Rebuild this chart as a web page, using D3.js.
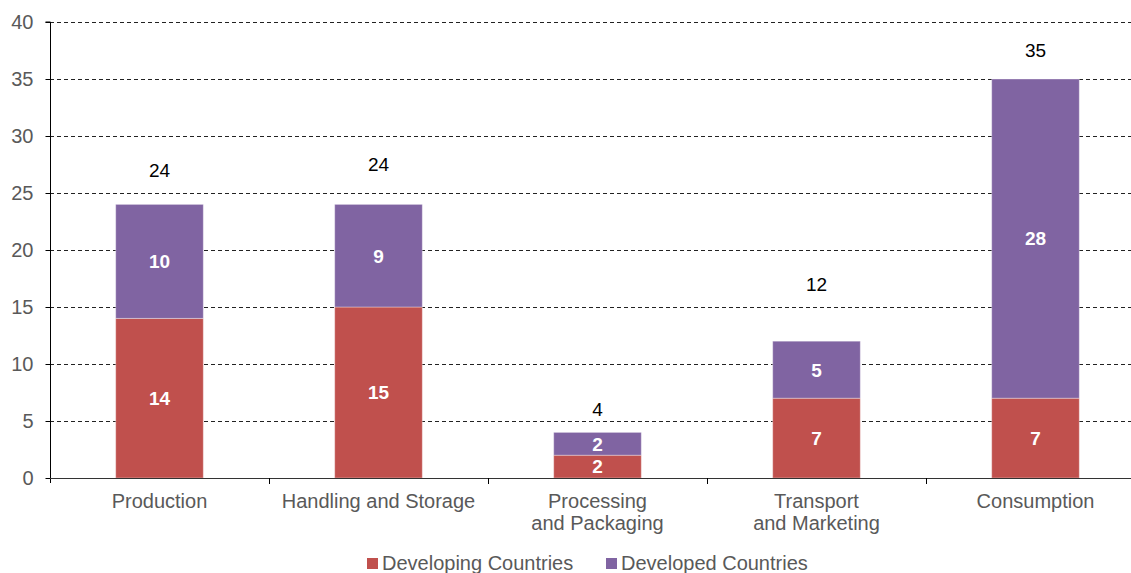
<!DOCTYPE html>
<html>
<head>
<meta charset="utf-8">
<script src="https://cdn.jsdelivr.net/npm/d3@7"></script>
<style>
  html, body { margin: 0; padding: 0; background: #fff; }
  svg { display: block; font-family: "Liberation Sans", Arial, sans-serif; }
</style>
</head>
<body>
<svg id="chart" width="1131" height="573"></svg>
<script>
// Food loss by stage of the supply chain (stacked: developing + developed)
const categories = [
  ["Production"],
  ["Handling and Storage"],
  ["Processing", "and Packaging"],
  ["Transport", "and Marketing"],
  ["Consumption"]
];
const developing = [14, 15, 2, 7, 7];
const developed  = [10, 9, 2, 5, 28];
const totals     = [24, 24, 4, 12, 35];
const seriesNames = ["Developing Countries", "Developed Countries"];
const yTicks = [0, 5, 10, 15, 20, 25, 30, 35, 40];

// Value level at which each total label sits above its bar
const totalLabelAt = [27.0, 27.5, 6.0, 17.0, 37.5];

const colors = ["#C0504D", "#8064A2"];

const svg = d3.select("#chart");
const plotLeft = 50, plotRight = 1145, plotTop = 22, plotBottom = 478;

const x = d3.scaleBand()
  .domain(d3.range(categories.length))
  .range([plotLeft, plotRight])
  .padding(0);
const y = d3.scaleLinear().domain([0, 40]).range([plotBottom, plotTop]);
const barW = x.bandwidth() * 0.4;

// Dashed gridlines
svg.append("g")
  .selectAll("line")
  .data(yTicks.filter(d => d > 0))
  .join("line")
  .attr("x1", plotLeft).attr("x2", plotRight)
  .attr("y1", d => Math.round(y(d)) + 0.5)
  .attr("y2", d => Math.round(y(d)) + 0.5)
  .attr("stroke", "#222")
  .attr("stroke-width", 1)
  .attr("stroke-dasharray", "4,3");

// Stacked bars
const rows = categories.map((c, i) => ({ i, developing: developing[i], developed: developed[i] }));
const stack = d3.stack().keys(["developing", "developed"])(rows);

const layers = svg.append("g")
  .selectAll("g")
  .data(stack)
  .join("g")
  .attr("fill", (d, k) => colors[k]);

layers.selectAll("rect")
  .data(d => d)
  .join("rect")
  .attr("x", d => x(d.data.i) + (x.bandwidth() - barW) / 2)
  .attr("width", barW)
  .attr("y", d => y(d[1]))
  .attr("height", d => y(d[0]) - y(d[1]))
  .attr("stroke", "rgba(255,255,255,0.35)")
  .attr("stroke-width", 1);

// Segment value labels
layers.selectAll("text")
  .data(d => d)
  .join("text")
  .attr("x", d => x(d.data.i) + x.bandwidth() / 2)
  .attr("y", d => (y(d[0]) + y(d[1])) / 2)
  .attr("dy", "0.36em")
  .attr("text-anchor", "middle")
  .attr("fill", "#fff")
  .attr("font-weight", "bold")
  .attr("font-size", 19)
  .text(d => d[1] - d[0]);

// Total labels
svg.append("g")
  .selectAll("text")
  .data(totals)
  .join("text")
  .attr("x", (d, i) => x(i) + x.bandwidth() / 2)
  .attr("y", (d, i) => y(totalLabelAt[i]))
  .attr("dy", "0.36em")
  .attr("text-anchor", "middle")
  .attr("fill", "#000")
  .attr("font-size", 19)
  .text(d => d);

// Y axis
const yAxis = svg.append("g")
  .attr("transform", `translate(${plotLeft + 0.5},0)`)
  .call(d3.axisLeft(y).tickValues(yTicks).tickSize(5).tickPadding(12));
yAxis.select(".domain").attr("stroke", "#000").attr("d", `M-5,${plotTop}H0V${plotBottom + 5}`);
yAxis.selectAll(".tick line").attr("stroke", "#000");
yAxis.selectAll(".tick text")
  .attr("fill", "#595959")
  .attr("font-size", 20)
  .attr("font-family", "Liberation Sans, Arial, sans-serif");

// X axis baseline and category dividers
const xg = svg.append("g");
xg.append("line")
  .attr("x1", plotLeft).attr("x2", plotRight)
  .attr("y1", plotBottom + 0.5).attr("y2", plotBottom + 0.5)
  .attr("stroke", "#333");
xg.selectAll("line.div")
  .data(d3.range(1, categories.length + 1))
  .join("line")
  .attr("class", "div")
  .attr("x1", i => Math.round(x(0) + i * x.step()) + 0.5)
  .attr("x2", i => Math.round(x(0) + i * x.step()) + 0.5)
  .attr("y1", plotBottom).attr("y2", plotBottom + 6)
  .attr("stroke", "#000");

// Category labels
xg.selectAll("text")
  .data(categories)
  .join("text")
  .attr("x", (d, i) => x(i) + x.bandwidth() / 2)
  .attr("y", 508)
  .attr("text-anchor", "middle")
  .attr("fill", "#595959")
  .attr("font-size", 20)
  .each(function(lines) {
    d3.select(this).selectAll("tspan")
      .data(lines)
      .join("tspan")
      .attr("x", d3.select(this).attr("x"))
      .attr("dy", (d, j) => j === 0 ? 0 : 22)
      .text(d => d);
  });

// Legend
const legend = svg.append("g");
const legendX = [367, 606];
seriesNames.forEach((name, k) => {
  legend.append("rect")
    .attr("x", legendX[k]).attr("y", 558)
    .attr("width", 11).attr("height", 11)
    .attr("fill", colors[k]);
  legend.append("text")
    .attr("x", legendX[k] + 15).attr("y", 570)
    .attr("fill", "#595959")
    .attr("font-size", 20)
    .text(name);
});
</script>
</body>
</html>
